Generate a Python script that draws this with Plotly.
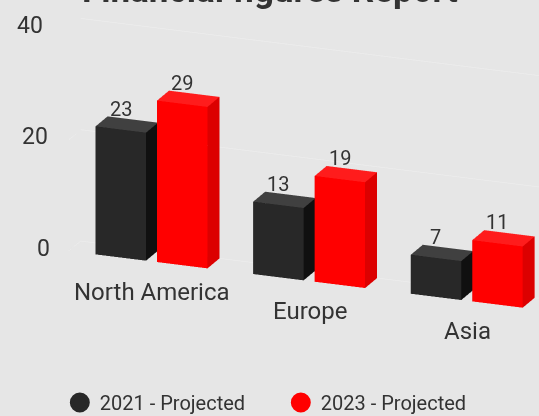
import plotly.graph_objects as go

# ---- data ----
categories = ["North America", "Europe", "Asia"]
series_names = ["2021 - Projected", "2023 - Projected"]
values_2021 = [23, 13, 7]
values_2023 = [29, 19, 11]
y_ticks = [0, 20, 40]
title_text = "Financial figures Report"

# ---- style ----
BG = "#e6e6e6"
TXT = "#333333"
FONT = "Roboto, 'Open Sans', sans-serif"
face_colors = [
    {"front": "#282828", "top": "#404040", "side": "#101010"},
    {"front": "#ff0000", "top": "#ff1c1c", "side": "#dc0000"},
]
legend_colors = ["#282828", "#ff0000"]
offsets = [(-0.36, -0.04), (0.03, 0.35)]
tick_xshift = {0: -17, 20: -19, 40: -24}
X_MIN, X_MAX = -0.53, 2.75
DEPTH = 1.0


def box_mesh(bars, colors):
    xs, ys, zs, I, J, K, fc = [], [], [], [], [], [], []
    for (x0, x1, z1) in bars:
        b = len(xs)
        y0, y1, z0 = 0.0, DEPTH, 0.0
        pts = [(x0, y0, z0), (x1, y0, z0), (x1, y1, z0), (x0, y1, z0),
               (x0, y0, z1), (x1, y0, z1), (x1, y1, z1), (x0, y1, z1)]
        for p in pts:
            xs.append(p[0]); ys.append(p[1]); zs.append(p[2])
        faces = [((0, 1, 2), "side"), ((0, 2, 3), "side"),
                 ((4, 5, 6), "top"), ((4, 6, 7), "top"),
                 ((0, 1, 5), "front"), ((0, 5, 4), "front"),
                 ((3, 2, 6), "front"), ((3, 6, 7), "front"),
                 ((0, 3, 7), "side"), ((0, 7, 4), "side"),
                 ((1, 2, 6), "side"), ((1, 6, 5), "side")]
        for (a, bb, c), k in faces:
            I.append(b + a); J.append(b + bb); K.append(b + c)
            fc.append(colors[k])
    return xs, ys, zs, I, J, K, fc


fig = go.Figure()

# gridlines on back and left walls
for t in y_ticks:
    fig.add_trace(go.Scatter3d(
        x=[X_MIN, X_MIN, X_MAX], y=[0, DEPTH, DEPTH], z=[t, t, t],
        mode="lines", line=dict(color="#ebebeb", width=2),
        showlegend=False, hoverinfo="skip"))

scene_ann = []
for s, vals in enumerate([values_2021, values_2023]):
    o0, o1 = offsets[s]
    bars = [(i + o0, i + o1, v) for i, v in enumerate(vals)]
    xs, ys, zs, I, J, K, fc = box_mesh(bars, face_colors[s])
    fig.add_trace(go.Mesh3d(
        x=xs, y=ys, z=zs, i=I, j=J, k=K, facecolor=fc, flatshading=True,
        lighting=dict(ambient=1, diffuse=0, specular=0, fresnel=0, roughness=1),
        showlegend=False, hoverinfo="skip", name=series_names[s]))
    for i, v in enumerate(vals):
        scene_ann.append(dict(
            x=i + (o0 + o1) / 2, y=0, z=v, text=str(v), showarrow=False,
            xanchor="center", yanchor="bottom", yshift=7,
            font=dict(family=FONT, size=20, color=TXT)))
    # legend entry
    fig.add_trace(go.Scatter(
        x=[None], y=[None], mode="markers", name=series_names[s],
        marker=dict(symbol="circle", size=22, color=legend_colors[s],
                    line=dict(color=legend_colors[s], width=4))))

for i, c in enumerate(categories):
    scene_ann.append(dict(
        x=i, y=0, z=0, text=c, showarrow=False, xanchor="center",
        yanchor="top", yshift=-14,
        font=dict(family=FONT, size=24, color=TXT)))

for t in y_ticks:
    scene_ann.append(dict(
        x=X_MIN, y=0, z=t, text=str(t), showarrow=False, xanchor="right",
        yanchor="middle", xshift=tick_xshift[t], yshift=3,
        font=dict(family=FONT, size=23, color=TXT)))

ax_common = dict(visible=False, showgrid=False, zeroline=False,
                 showbackground=False, showspikes=False)
fig.update_layout(
    width=539, height=416,
    paper_bgcolor=BG, plot_bgcolor=BG,
    margin=dict(l=0, r=0, t=0, b=0, autoexpand=False),
    hovermode=False,
    xaxis=dict(visible=False), yaxis=dict(visible=False),
    scene=dict(
        domain=dict(x=[0, 1], y=[0, 1]),
        xaxis=dict(range=[X_MIN, X_MAX], **ax_common),
        yaxis=dict(range=[0, DEPTH], **ax_common),
        zaxis=dict(range=[0, 40], **ax_common),
        aspectmode="manual",
        aspectratio=dict(x=2.665, y=0.16, z=1.131),
        camera=dict(
            projection=dict(type="orthographic"),
            up=dict(x=0, y=0, z=1),
            center=dict(x=-0.2627, y=-0.1703, z=-0.1864),
            eye=dict(x=0.2989, y=-1.6218, z=0.344)),
        annotations=scene_ann,
    ),
    legend=dict(orientation="h", x=0.521, xanchor="center", y=-0.0144,
                yanchor="bottom", entrywidth=176,
                font=dict(family=FONT, size=20, color=TXT),
                bgcolor="rgba(0,0,0,0)", itemclick=False),
    annotations=[dict(
        x=0.5, y=1, xref="paper", yref="paper", text="<b>" + title_text + "</b>",
        showarrow=False, xanchor="center", yanchor="bottom", yshift=-13,
        font=dict(family=FONT, size=35, color=TXT))],
)

fig.write_html("out.html", config={"displayModeBar": False},
               post_script="document.body.style.margin='0px';"
                           "document.body.style.background='" + BG + "';")
